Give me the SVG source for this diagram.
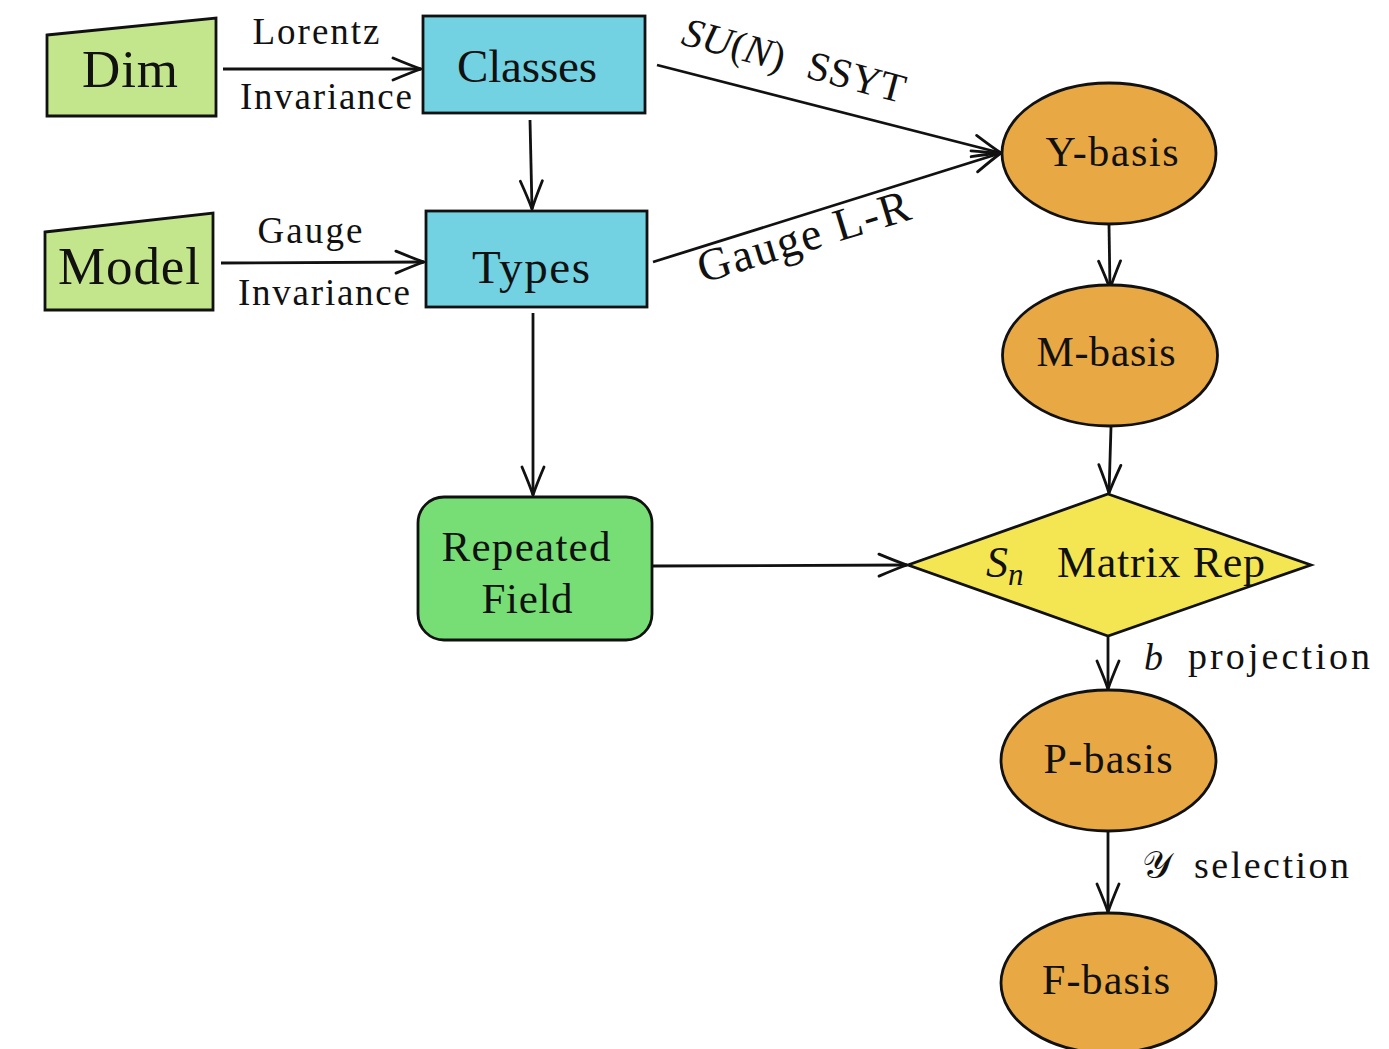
<svg xmlns="http://www.w3.org/2000/svg" width="1389" height="1049" viewBox="0 0 1389 1049">
<style>
text{font-family:"Liberation Serif","DejaVu Serif",serif;fill:#111}
.sh{stroke:#111;stroke-width:2.8}
.ln{stroke:#111;stroke-width:2.8;fill:none}
.inp{fill:#C3E58C}
.cls{fill:#72D2E1}
.ell{fill:#E8A843}
.it{font-style:italic}
</style>
<defs>
<marker id="arr" viewBox="-32 -14 36 28" markerWidth="36" markerHeight="28" refX="0" refY="0" orient="auto" markerUnits="userSpaceOnUse">
<path d="M-28,-11 Q-9,-3 0,0 Q-9,3 -28,11" fill="none" stroke="#111" stroke-width="2.8" stroke-linecap="round"/>
</marker>
</defs>
<rect width="1389" height="1049" fill="#fff"/>
<g id="connectors">
<path class="ln" d="M223,69 L421,69" marker-end="url(#arr)"/>
<path class="ln" d="M221,263 L424,262" marker-end="url(#arr)"/>
<path class="ln" d="M530,120 L532,209" marker-end="url(#arr)"/>
<path class="ln" d="M533,313 L533,495" marker-end="url(#arr)"/>
<path class="ln" d="M653,566 L907,565" marker-end="url(#arr)"/>
<path class="ln" d="M657,65 L1001,153" marker-end="url(#arr)"/>
<path class="ln" d="M653,262 L1001,153" marker-end="url(#arr)"/>
<path class="ln" d="M1109,225 L1110,289" marker-end="url(#arr)"/>
<path class="ln" d="M1111,427 L1109,493" marker-end="url(#arr)"/>
<path class="ln" d="M1108,637 L1108,689" marker-end="url(#arr)"/>
<path class="ln" d="M1108,832 L1108,912" marker-end="url(#arr)"/>
<text x="316" y="44" font-size="37" text-anchor="middle" textLength="127">Lorentz</text>
<text x="326" y="109" font-size="37" text-anchor="middle" textLength="172">Invariance</text>
<text x="310" y="243" font-size="37" text-anchor="middle" textLength="105">Gauge</text>
<text x="324" y="305" font-size="37" text-anchor="middle" textLength="172">Invariance</text>
<text x="680" y="44" font-size="41" transform="rotate(15 680 44)"><tspan class="it">SU</tspan>(<tspan class="it">N</tspan>)<tspan dx="24">SSYT</tspan></text>
<text x="808" y="251" font-size="46" text-anchor="middle" transform="rotate(-17 808 251)" textLength="220">Gauge L-R</text>
<text x="1144" y="670" font-size="38" class="it">b</text>
<text x="1188" y="669" font-size="38" textLength="182">projection</text>
<text x="1142" y="878" font-size="38" font-family="'DejaVu Serif',serif">𝒴</text>
<text x="1194" y="878" font-size="38" textLength="155">selection</text>
</g>
<g id="dim">
<polygon class="inp sh" points="47,35 216,18 216,116 47,116"/>
<text x="130" y="87" font-size="53" text-anchor="middle" textLength="96">Dim</text>
</g>
<g id="model">
<polygon class="inp sh" points="45,232 213,213 213,310 45,310"/>
<text x="129" y="284" font-size="53" text-anchor="middle" textLength="142">Model</text>
</g>
<g id="classes">
<rect class="cls sh" x="423" y="16" width="222" height="97"/>
<text x="527" y="82" font-size="47" text-anchor="middle" textLength="140">Classes</text>
</g>
<g id="types">
<rect class="cls sh" x="426" y="211" width="221" height="96"/>
<text x="531" y="283" font-size="47" text-anchor="middle" textLength="118">Types</text>
</g>
<g id="repeated-field">
<rect class="sh" fill="#77DE76" x="418" y="497" width="234" height="143" rx="26"/>
<text x="526" y="561" font-size="43" text-anchor="middle" textLength="169">Repeated</text>
<text x="527" y="613" font-size="43" text-anchor="middle" textLength="91">Field</text>
</g>
<g id="y-basis">
<ellipse class="ell sh" cx="1109" cy="153.5" rx="107" ry="70.5"/>
<text x="1112" y="166" font-size="42" text-anchor="middle" textLength="133">Y-basis</text>
</g>
<g id="m-basis">
<ellipse class="ell sh" cx="1110" cy="355.5" rx="107.5" ry="70.5"/>
<text x="1106" y="366" font-size="42" text-anchor="middle" textLength="139">M-basis</text>
</g>
<g id="sn-matrix-rep">
<polygon class="sh" fill="#F4E652" points="1108,494 1311,565 1108,636 908,565"/>
<text x="986" y="577" font-size="44"><tspan class="it">S</tspan><tspan class="it" font-size="31" dy="8">n</tspan><tspan dy="-8" x="1057" textLength="208">Matrix Rep</tspan></text>
</g>
<g id="p-basis">
<ellipse class="ell sh" cx="1108.5" cy="760.5" rx="107.5" ry="70.5"/>
<text x="1108" y="773" font-size="42" text-anchor="middle" textLength="129">P-basis</text>
</g>
<g id="f-basis">
<ellipse class="ell sh" cx="1108.5" cy="983" rx="107.5" ry="70"/>
<text x="1106" y="994" font-size="42" text-anchor="middle" textLength="128">F-basis</text>
</g>
</svg>
